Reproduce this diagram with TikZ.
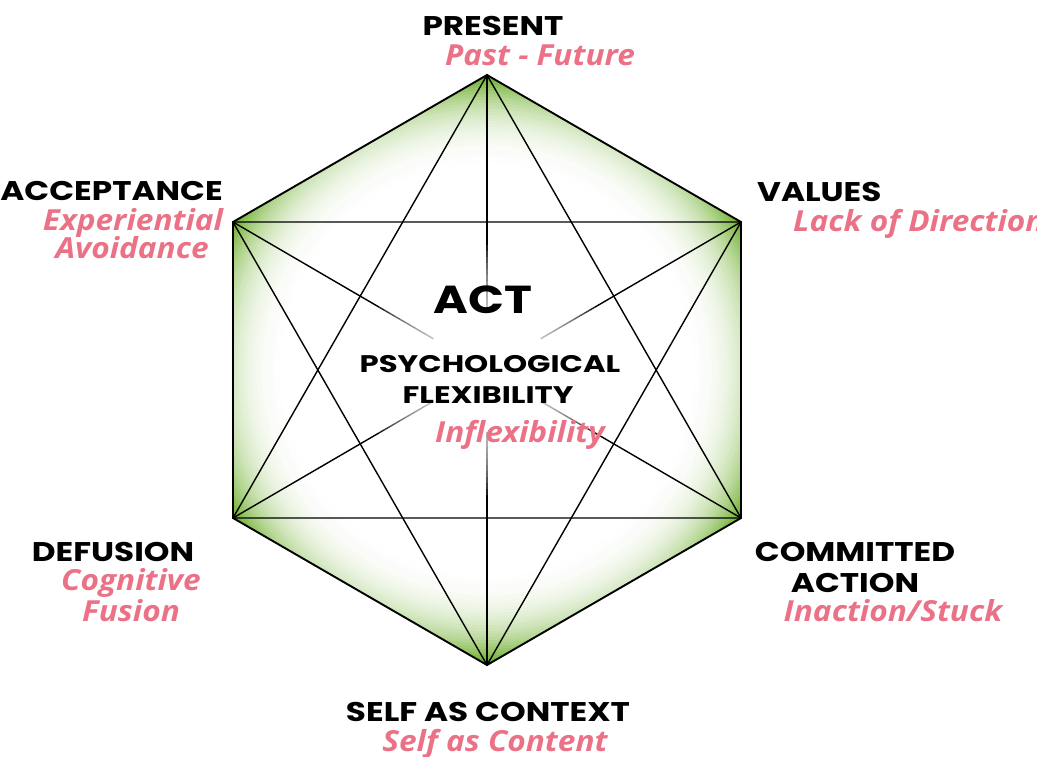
\documentclass[tikz,border=0pt]{standalone}
\usepackage{fontspec}
\usepackage{tikz}
\usetikzlibrary{positioning}
\newfontfamily\capfont[FakeStretch=1.21]{Poppins}
\newfontfamily\midfont[FakeStretch=1.28]{Poppins}
\newfontfamily\pinkfont[FakeStretch=1.09]{Open Sans}
\definecolor{hexgreen}{RGB}{108,174,42}
\definecolor{actpink}{RGB}{235,114,134}

\begin{document}
\begin{tikzpicture}[
        x=1pt, y=-1pt,
        side/.style={draw, line width=1.9pt, line join=round},
        chord/.style={draw, line width=1.4pt},
        lbl/.style={inner sep=0pt, font=\capfont\bfseries\fontsize{27}{29}\selectfont},
        mid/.style={inner sep=0pt, font=\midfont\bfseries\fontsize{24}{26}\selectfont},
        opp/.style={inner sep=0pt, text=actpink, font=\pinkfont\bfseries\itshape\fontsize{29}{31}\selectfont}
    ]
        \useasboundingbox (0,0) rectangle (1037,756);

        % Corners
        \coordinate (P) at (487,75);
        \coordinate (V) at (741,222);
        \coordinate (C) at (741,518);
        \coordinate (S) at (487,665);
        \coordinate (D) at (233,518);
        \coordinate (A) at (233,222);
        \coordinate (O) at (487,370);

        % Fill: green rim, white in the middle
        \begin{scope}
            \clip (P) -- (V) -- (C) -- (S) -- (D) -- (A) -- cycle;
            \foreach \r in {300,297,...,186} {
                \pgfmathtruncatemacro\g{min(100,100*((\r-185)/109)^3)}
                \fill[hexgreen!\g!white] (O) circle (\r);
            }
        \end{scope}

        % Long diagonals, faded in the middle
        \foreach \a/\b in {P/S, A/C, V/D}
            \draw[chord] (\a) -- (\b);
        \foreach \r in {125,119,...,65}
            \fill[white, opacity=0.12] (O) circle (\r);
        \fill[white] (O) circle (62);

        % Star
        \draw[chord] (P) -- (C) -- (D) -- cycle;
        \draw[chord] (A) -- (V) -- (S) -- cycle;

        % Sides
        \draw[side] (P) -- (V) -- (C) -- (S) -- (D) -- (A) -- cycle;

        % Centre
        \node[inner sep=0pt, anchor=base, font=\capfont\bfseries\fontsize{39}{41}\selectfont] (act) at (483,313) {ACT};
        \node[mid, anchor=base] (psych) at (490,372) {PSYCHOLOGICAL};
        \node[mid, anchor=base] (flex) at (488,403) {FLEXIBILITY};
        \node[opp, anchor=base] (inflex) at (520,442) {Inflexibility};

        % Corner labels
        \node[lbl, anchor=base] (present) at (493,35) {PRESENT};
        \node[opp, anchor=base] (pastfut) at (540,65) {Past - Future};

        \node[lbl, anchor=base east] (accept) at (223,200) {ACCEPTANCE};
        \node[opp, anchor=base] (exper) at (133,230) {Experiential};
        \node[opp, anchor=base] (avoid) at (132,258) {Avoidance};

        \node[lbl, anchor=base west] (values) at (757,201) {VALUES};
        \node[opp, anchor=base west] (lackdir) at (793,231) {Lack of Direction};

        \node[lbl, anchor=base] (defus) at (113,561) {DEFUSION};
        \node[opp, anchor=base] (cogn) at (131,590) {Cognitive};
        \node[opp, anchor=base] (fusion) at (131,621) {Fusion};

        \node[lbl, anchor=base] (commit) at (855,561) {COMMITTED};
        \node[lbl, anchor=base] (action) at (855,592) {ACTION};
        \node[opp, anchor=base] (inact) at (893,621) {Inaction/Stuck};

        \node[lbl, anchor=base] (selfctx) at (488,721) {SELF AS CONTEXT};
        \node[opp, anchor=base] (selfcnt) at (495,751) {Self as Content};
    \end{tikzpicture}
\end{document}
